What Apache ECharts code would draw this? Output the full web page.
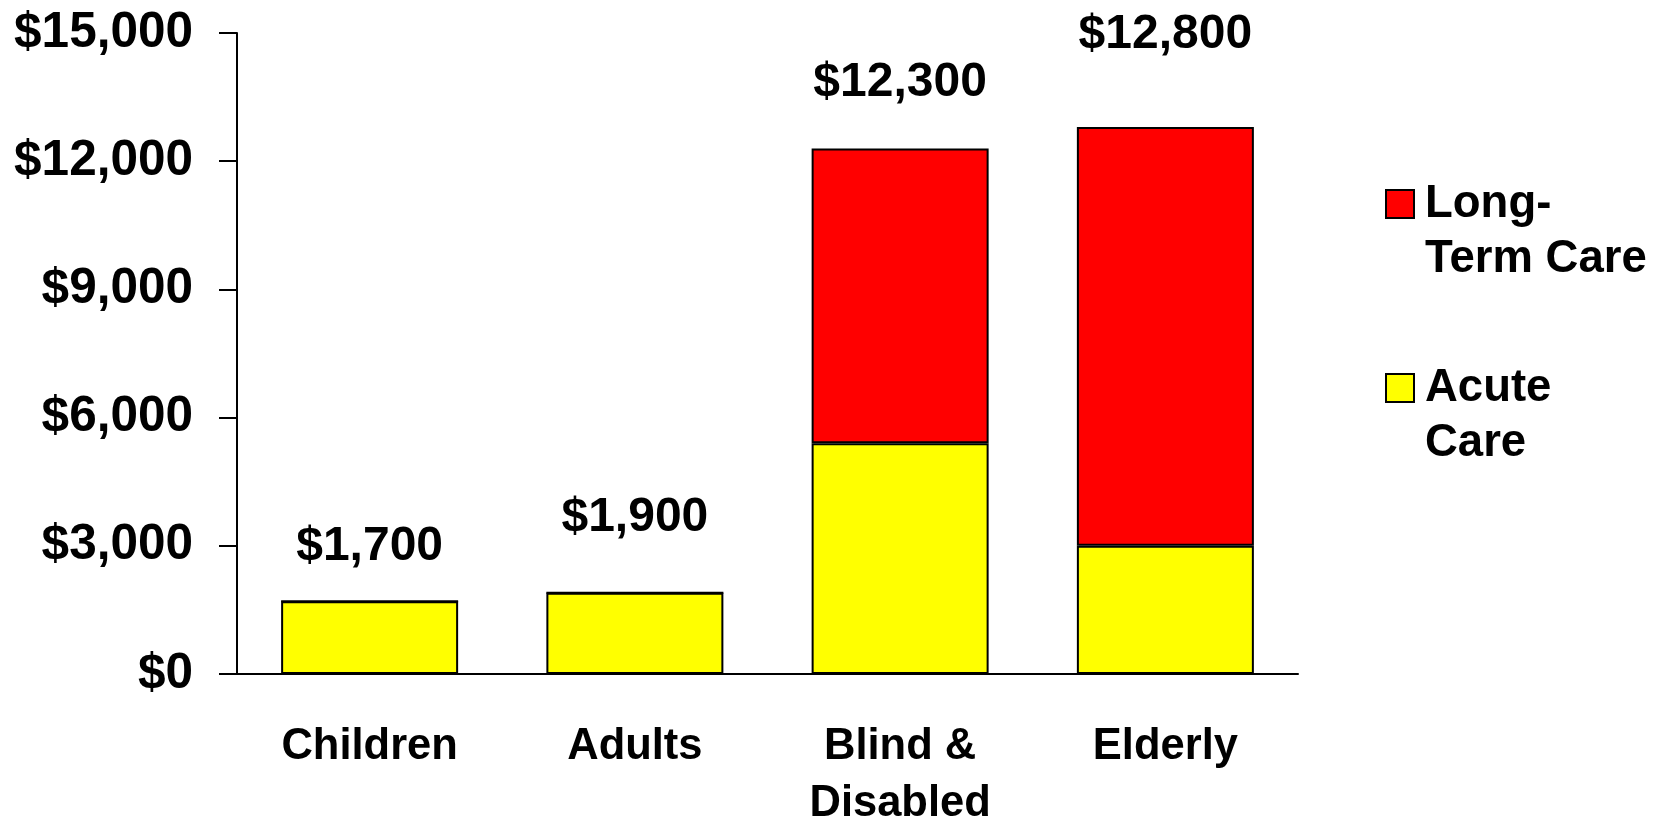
<!DOCTYPE html>
<html>
<head>
<meta charset="utf-8">
<script src="https://cdn.jsdelivr.net/npm/echarts@6/dist/echarts.min.js"></script>
<style>
  html, body { margin: 0; padding: 0; background: #ffffff; }
  #chart { width: 1665px; height: 819px; }
</style>
</head>
<body>
<div id="chart"></div>
<script>
// Medicaid spending per enrollee, by enrollment group
const categories = ['Children', 'Adults', 'Blind &\nDisabled', 'Elderly'];
const acuteCare = [1700, 1900, 5400, 3000];
const longTermCare = [0, 0, 6900, 9800];
const seriesNames = ['Acute\nCare', 'Long-\nTerm Care'];
const yAxisMin = 0;
const yAxisMax = 15000;
const yAxisStep = 3000;

const FONT = '"Liberation Sans", Arial, sans-serif';
const money = v => '$' + Number(v).toLocaleString('en-US');

const chart = echarts.init(document.getElementById('chart'), null, { renderer: 'canvas' });

const barStyle = color => ({ color: color, borderColor: '#000000', borderWidth: 2 });

// vertical nudge (px) of each total label above its stack
const totalLabelNudge = [20, 0, 8, -18];

const topSegments = longTermCare.map((v, i) => ({
  value: v,
  label: { offset: [0, totalLabelNudge[i]] }
}));

// Legend text: a blank first line keeps the swatch level with the first text line,
// and a spacer token widens the gap between swatch and text.
const legendText = name =>
  '{t| }\n' + name.split('\n').map(line => '{s|}{t|' + line + '}').join('\n');

chart.setOption({
  animation: false,
  backgroundColor: '#ffffff',
  grid: {
    left: 237, right: 367, top: 33, bottom: 145,
    containLabel: false, outerBoundsMode: 'none'
  },
  legend: {
    orient: 'vertical',
    left: 1385,
    top: 121.5,
    padding: 0,
    itemGap: 19,
    itemWidth: 28,
    itemHeight: 28,
    icon: 'rect',
    data: [seriesNames[1], seriesNames[0]],
    formatter: legendText,
    textStyle: {
      fontFamily: FONT, fontWeight: 'bold', fontSize: 45.5, color: '#000000',
      lineHeight: 55,
      rich: {
        s: { width: 6, height: 55, lineHeight: 55 },
        t: {
          fontFamily: FONT, fontWeight: 'bold', fontSize: 45.5, color: '#000000',
          lineHeight: 55
        }
      }
    }
  },
  xAxis: {
    type: 'category',
    data: categories,
    axisLine: { show: true, lineStyle: { color: '#000000', width: 2 } },
    axisTick: { show: false },
    axisLabel: {
      margin: 44, color: '#000000', fontFamily: FONT, fontWeight: 'bold',
      fontSize: 43.5, lineHeight: 57, interval: 0
    },
    splitLine: { show: false }
  },
  yAxis: {
    type: 'value',
    min: yAxisMin,
    max: yAxisMax,
    interval: yAxisStep,
    axisLine: { show: true, lineStyle: { color: '#000000', width: 2 } },
    axisTick: { show: true, inside: false, length: 18, lineStyle: { color: '#000000', width: 2 } },
    axisLabel: {
      margin: 44, color: '#000000', fontFamily: FONT, fontWeight: 'bold', fontSize: 49.5,
      formatter: money
    },
    splitLine: { show: false }
  },
  series: [
    {
      name: seriesNames[0],
      type: 'bar',
      stack: 'total',
      barWidth: 177,
      data: acuteCare,
      itemStyle: barStyle('#ffff00')
    },
    {
      name: seriesNames[1],
      type: 'bar',
      stack: 'total',
      barWidth: 177,
      data: topSegments,
      itemStyle: barStyle('#ff0000'),
      label: {
        show: true,
        position: 'top',
        distance: 50,
        color: '#000000',
        fontFamily: FONT,
        fontWeight: 'bold',
        fontSize: 48,
        formatter: p => money(acuteCare[p.dataIndex] + longTermCare[p.dataIndex])
      }
    }
  ]
});
</script>
</body>
</html>
